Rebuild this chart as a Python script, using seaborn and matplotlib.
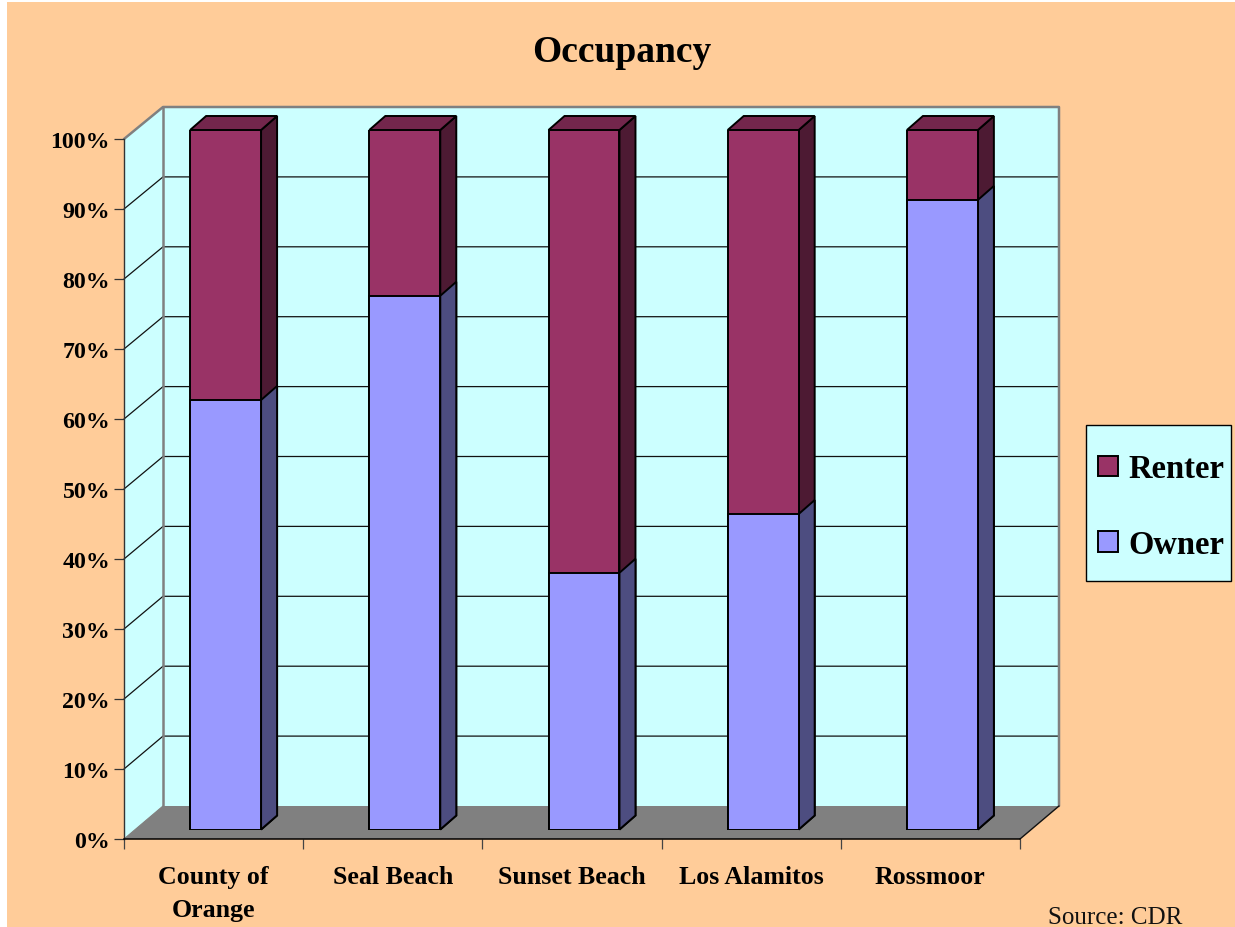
import matplotlib
matplotlib.use("Agg")
import matplotlib.pyplot as plt
from matplotlib.patches import Polygon, Rectangle, Patch
from matplotlib.transforms import IdentityTransform
import numpy as np
import seaborn as sns

categories = ["County of\nOrange", "Seal Beach", "Sunset Beach", "Los Alamitos", "Rossmoor"]
owner = [61.4, 76.3, 36.7, 45.1, 90.0]
renter = [38.6, 23.7, 63.3, 54.9, 10.0]
percent_ticks = [0, 10, 20, 30, 40, 50, 60, 70, 80, 90, 100]

PEACH, WALL, FLOOR = "#FFCC99", "#CCFFFF", "#808080"
OWNER, RENTER = "#9999FF", "#993366"
OWNER_SIDE, RENTER_SIDE, RENTER_TOP = "#4D4D80", "#4D1A33", "#73264C"
FONT = "Liberation Serif"

sns.set_theme(style="ticks")
plt.rcParams["font.family"] = FONT
plt.rcParams["font.weight"] = "bold"

W, H = 1235, 928
fig = plt.figure(figsize=(W / 100, H / 100), dpi=100, facecolor="white")


def rect(x0, ytop, x1, ybot):
    return [x0 / W, 1 - ybot / H, (x1 - x0) / W, (ybot - ytop) / H]


# background layer in pixel coordinates
bg = fig.add_axes([0, 0, 1, 1], zorder=0)
bg.set_xlim(0, W)
bg.set_ylim(H, 0)
bg.axis("off")
bg.add_patch(Rectangle((7, 3), W - 7, H - 3, fc=PEACH, ec="none"))
FX0, FX1, FY0, FY1 = 124, 1020, 840, 140      # front plane
DX, DY = 39, -33                               # depth of the box
BX0, BX1, BY0 = FX0 + DX, FX1 + DX, FY0 + DY
BY1 = 108
bg.add_patch(Polygon([(FX0, FY0), (BX0, BY0), (BX0, BY1), (FX0, FY1)], fc=WALL, ec="none"))
bg.add_patch(Rectangle((BX0, BY1), BX1 - BX0, BY0 - BY1, fc=WALL, ec="none"))
bg.add_patch(Polygon([(FX0, FY0), (FX1, FY0), (BX1, BY0), (BX0, BY0)], fc=FLOOR, ec="none"))
for v in percent_ticks[1:-1]:
    yf = FY0 + (FY1 - FY0) * v / 100
    yb = BY0 + (BY1 - BY0) * v / 100
    bg.plot([FX0, BX0, BX1], [yf, yb, yb], color="#111111", lw=0.9)
bg.plot([FX0, BX0, BX1, BX1], [FY1, BY1, BY1, BY0], color=FLOOR, lw=1.8)
bg.plot([BX0, BX0], [BY1, BY0], color=FLOOR, lw=1.8)
bg.plot([BX1, FX1], [BY0, FY0], color="#111111", lw=1.0)
bg.plot([FX0, BX0], [FY0, BY0], color="#808080", lw=0.8)
bg.add_patch(Rectangle((1086, 426), 145, 155.5, fc=WALL, ec="black", lw=1.0))

# front-plane axes carrying the ticks and labels
ax = fig.add_axes(rect(FX0, FY1, FX1, FY0), zorder=1, facecolor="none")
ax.set_xlim(-0.5, 4.5)
ax.set_ylim(0, 100)
sns.despine(ax=ax)
ax.spines["left"].set_color("#333333")
ax.spines["left"].set_linewidth(1.0)
ax.spines["bottom"].set_color("black")
ax.spines["bottom"].set_linewidth(1.1)
ax.set_yticks(percent_ticks, [f"{v}%" for v in percent_ticks], fontsize=17.2, fontweight="bold", color="black")
ax.tick_params(axis="y", length=7.5, width=0.9, color="#333333", pad=2.5)
ax.set_xticks(np.arange(6) - 0.5, [""] * 6)
ax.tick_params(axis="x", which="major", length=7.5, width=0.9, color="#444444")
ax.set_xticks(np.arange(5), categories, minor=True, fontsize=18.6, fontweight="bold", color="black", linespacing=1.55)
ax.tick_params(axis="x", which="minor", length=0, pad=19)
ax.set_title("Occupancy", fontsize=27, fontweight="bold", color="black", pad=56, x=(622 - FX0) / (FX1 - FX0))

# bars sit a little way into the box
bars = fig.add_axes(rect(136, 131, 1032, 830.5), zorder=2, facecolor="none")
total = [o + r for o, r in zip(owner, renter)]
edge = dict(edgecolor="black", linewidth=1.4)
sns.barplot(x=categories, y=total, ax=bars, color=RENTER, saturation=1, width=0.396, errorbar=None, **edge)
n = len(categories)
sns.barplot(x=categories, y=owner, ax=bars, color=OWNER, saturation=1, width=0.396, errorbar=None, **edge)
bars.set_xlim(-0.5, 4.5)
bars.set_ylim(0, 100)
bars.axis("off")
fig.canvas.draw()
SX, SY = 16, 14
patches = list(bars.patches)
for i, p in enumerate(patches):
    bb = p.get_window_extent()
    x0, x1, y0, y1 = bb.x0, bb.x1, bb.y0, bb.y1
    is_total = i < n
    side = [(x1, y0), (x1 + SX, y0 + SY), (x1 + SX, y1 + SY), (x1, y1)]
    bars.add_patch(Polygon(side, transform=IdentityTransform(), fc=RENTER_SIDE if is_total else OWNER_SIDE,
                           ec="black", lw=1.4, clip_on=False, zorder=0.5 + 0.1 * (not is_total)))
    if is_total:
        top = [(x0, y1), (x1, y1), (x1 + SX, y1 + SY), (x0 + SX, y1 + SY)]
        bars.add_patch(Polygon(top, transform=IdentityTransform(), fc=RENTER_TOP, ec="black", lw=1.4,
                               clip_on=False, zorder=0.5))

# legend (its box is drawn in the background layer)
handles = [Patch(fc=RENTER, ec="black", lw=1.4, label="Renter"), Patch(fc=OWNER, ec="black", lw=1.4, label="Owner")]
fig.legend(handles=handles, loc="upper left", bbox_to_anchor=(1098 / W, 1 - 454.5 / H), frameon=False,
           borderpad=0, borderaxespad=0, handlelength=0.61, handleheight=0.61, handletextpad=0.31,
           labelspacing=1.35, prop=dict(family=FONT, weight="bold", size=23.5), labelcolor="black")

fig.text(1048 / W, 1 - 924 / H, "Source: CDR", fontsize=18, fontweight="normal", color="#111111", ha="left", va="baseline")

fig.savefig("out.png", dpi=100, facecolor="white")
